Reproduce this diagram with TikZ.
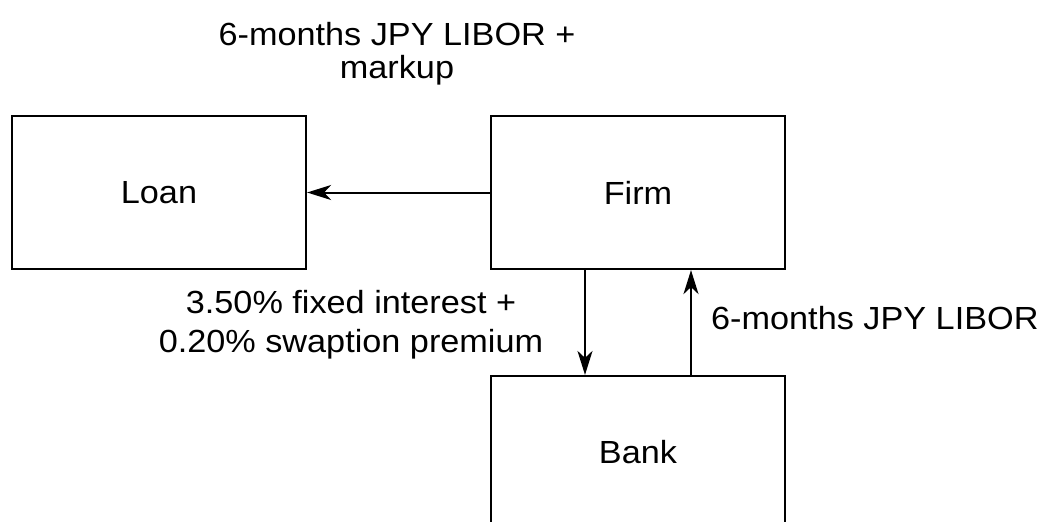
\documentclass[tikz,border=0pt]{standalone}
\usepackage{fontspec}
\setmainfont[FakeStretch=1.07]{Liberation Sans}
\usetikzlibrary{arrows.meta}
\begin{document}
\begin{tikzpicture}[x=1pt,y=-1pt,
  box/.style={draw=black,line width=2.2pt,minimum width=294pt,minimum height=153pt,inner sep=0pt,font=\fontsize{32}{38}\selectfont},
  arr/.style={line width=2pt,-{Stealth[length=24pt,width=15pt,inset=7pt]}},
  lbl/.style={font=\fontsize{32}{38}\selectfont,inner sep=0pt}]
\useasboundingbox[fill=white] (0,0) rectangle (1047,522);
\node[box] (loan) at (159,192.5) {Loan};
\node[box] (firm) at (638,192.5) {Firm};
\node[box] (bank) at (638,452.5) {Bank};
\draw[arr] (firm.west) -- (loan.east);
\draw[arr] ([xshift=-53pt]firm.south) -- ([xshift=-53pt]bank.north);
\draw[arr] ([xshift=53pt]bank.north) -- ([xshift=53pt]firm.south);
\node[lbl,anchor=base,align=center,font=\fontsize{32}{33}\selectfont] (toplbl) at (397,78) {6-months JPY LIBOR +\\markup};
\node[lbl,anchor=base,align=center,font=\fontsize{32}{39}\selectfont] (leftlbl) at (351,352) {3.50\% fixed interest +\\0.20\% swaption premium};
\node[lbl,anchor=base west] (rightlbl) at (711,329) {6-months JPY LIBOR};
\end{tikzpicture}
\end{document}
